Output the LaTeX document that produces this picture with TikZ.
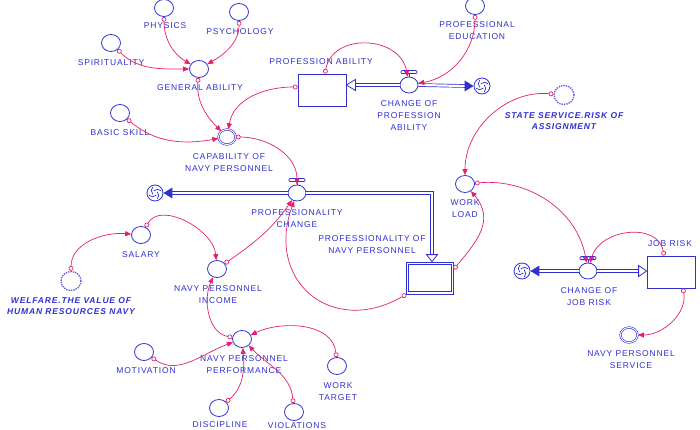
\documentclass[tikz,border=0pt]{standalone}
\usepackage{fontspec}
\setmainfont{Liberation Sans}
\newfontfamily\labfont[LetterSpace=10]{Liberation Sans}
\usetikzlibrary{shapes.geometric,arrows.meta,calc}
\definecolor{vblue}{RGB}{48,48,210}
\definecolor{vpink}{RGB}{230,30,115}
\definecolor{vshadow}{RGB}{100,100,225}
\begin{document}
\begin{tikzpicture}[x=1pt,y=-1pt,
  aux/.style={ellipse,draw=vblue,line width=0.8pt,minimum width=19pt,minimum height=17pt,inner sep=0pt},
  valve/.style={aux,minimum width=18pt,minimum height=16pt},
  dbl/.style={ellipse,draw=vblue,line width=0.6pt,double=white,double distance=1pt,minimum width=17pt,minimum height=15pt,inner sep=0pt},
  shadow/.style={ellipse,draw=vshadow,line width=1.4pt,densely dotted,minimum width=20pt,minimum height=19pt,inner sep=0pt},
  stock/.style={rectangle,draw=vblue,line width=0.8pt,minimum width=48pt,minimum height=32pt,inner sep=0pt},
  innerbox/.style={draw=vblue,line width=0.8pt},
  cloudnode/.style={circle,draw=vblue,line width=0.8pt,minimum size=16pt,inner sep=0pt},
  lab/.style={text=vblue,font=\fontsize{8.5}{12}\labfont,align=center,inner sep=0pt},
  blab/.style={text=vblue,font=\fontsize{8.5}{11}\labfont\bfseries\itshape,align=center,inner sep=0pt},
  conn/.style={draw=vpink,line width=0.7pt,arrows={Circle[open,length=4.8pt,width=4.8pt]-Triangle[length=6pt,width=5pt]}},
  pipe/.style={draw=vblue,line width=0.7pt,double=white,double distance=2.2pt},
  hollowtip/.style={draw=vblue,line width=0.8pt,fill=white,line join=miter},
  filltip/.style={fill=vblue},
  valvebar/.style={draw=vblue,line width=0.8pt},
  swirl/.style={draw=vblue,line width=0.7pt},
]
\useasboundingbox (0,0) rectangle (700,430);
\fill[white] (0,0) rectangle (700,430);

% ---------- nodes ----------
\node[aux] (phy) at (164,8) {};
\node[aux] (psy) at (239,12) {};
\node[aux] (spi) at (111,43) {};
\node[aux] (ga) at (199,69) {};
\node[aux] (bs) at (120,113) {};
\node[dbl] (cap) at (227,137) {};
\node[stock] (pa) at (322,90) {};
\node[valve] (v1) at (409,85) {};
\node[cloudnode] (c1) at (482,86) {};
\node[aux] (pe) at (475,6) {};
\node[shadow] (ss) at (564,95) {};
\node[aux] (wl) at (465,184) {};
\node[valve] (v2) at (297,193) {};
\node[cloudnode] (c2) at (155,193) {};
\coordinate (bend2) at (432,193);
\node[stock,minimum width=47pt,minimum height=32pt] (pn) at (430,278) {};
\draw[innerbox] ($(pn.north west)+(2.6,2.6)$) rectangle ($(pn.south east)+(-2.6,-2.6)$);
\node[valve] (v3) at (588,271) {};
\node[cloudnode] (c3) at (522,271) {};
\node[stock] (jr) at (671,272) {};
\node[dbl] (nps) at (629,335) {};
\node[aux] (sal) at (141,235) {};
\node[shadow] (wel) at (71,281) {};
\node[aux] (inc) at (217,269) {};
\node[aux] (perf) at (242,339) {};
\node[aux] (mot) at (144,352) {};
\node[aux] (wt) at (337,366) {};
\node[aux] (dis) at (219,408) {};
\node[aux] (vio) at (294,412) {};

% ---------- labels ----------
\node[lab] (lphy) at (165,26) {PHYSICS};
\node[lab] (lpsy) at (240,32) {PSYCHOLOGY};
\node[lab] (lspi) at (111,63) {SPIRITUALITY};
\node[lab] (lga) at (200,88) {GENERAL ABILITY};
\node[lab] (lbs) at (120,133) {BASIC SKILL};
\node[lab] (lcap) at (229,163) {CAPABILITY OF\\NAVY PERSONNEL};
\node[lab] (lpa) at (321,62) {PROFESSION ABILITY};
\node[lab] (lv1) at (409,116) {CHANGE OF\\PROFESSION\\ABILITY};
\node[lab] (lpe) at (477,31) {PROFESSIONAL\\EDUCATION};
\node[blab] (lss) at (564,121) {STATE SERVICE.RISK OF\\ASSIGNMENT};
\node[lab] (lwl) at (465,209) {WORK\\LOAD};
\node[lab] (lv2) at (297,219) {PROFESSIONALITY\\CHANGE};
\node[lab] (lpn) at (372,245) {PROFESSIONALITY OF\\NAVY PERSONNEL};
\node[lab] (lv3) at (589,297) {CHANGE OF\\JOB RISK};
\node[lab] (ljr) at (670,244) {JOB RISK};
\node[lab] (lnps) at (631,360) {NAVY PERSONNEL\\SERVICE};
\node[lab] (lsal) at (141,255) {SALARY};
\node[blab] (lwel) at (71,306) {WELFARE.THE VALUE OF\\HUMAN RESOURCES NAVY};
\node[lab] (linc) at (218,295) {NAVY PERSONNEL\\INCOME};
\node[lab] (lperf) at (244,365) {NAVY PERSONNEL\\PERFORMANCE};
\node[lab] (lmot) at (146,371) {MOTIVATION};
\node[lab] (lwt) at (338,392) {WORK\\TARGET};
\node[lab] (ldis) at (220,424.5) {DISCIPLINE};
\node[lab] (lvio) at (297,425.5) {VIOLATIONS};

% ---------- flows ----------
\draw[pipe] (v1.west) -- ($(pa.east |- v1)+(8,0)$);
\draw[hollowtip] (pa.east |- v1) -- ++(9,-5.5) -- ++(0,11) -- cycle;
\draw[pipe] (v1.east) -- ($(c1.west)+(-8,0)$);
\fill[filltip] (c1.west) -- ++(-9,-5.5) -- ++(0,11) -- cycle;

\draw[pipe] (v2.west) -- ($(c2.east)+(8,0)$);
\fill[filltip] (c2.east) -- ++(9,-5.5) -- ++(0,11) -- cycle;
\draw[pipe] (v2.east) -- (bend2) -- ($(bend2 |- pn.north)+(0,-7)$);
\draw[hollowtip] (bend2 |- pn.north) -- ++(-5.5,-7) -- ++(11,0) -- cycle;

\draw[pipe] (v3.west) -- ($(c3.east)+(8,0)$);
\fill[filltip] (c3.east) -- ++(9,-5.5) -- ++(0,11) -- cycle;
\draw[pipe] (v3.east) -- ($(jr.west |- v3)+(-8,0)$);
\draw[hollowtip] (jr.west |- v3) -- ++(-8,-5.5) -- ++(0,11) -- cycle;

% clouds
\foreach \c in {c1,c2,c3}{
  \foreach \a in {20,110,200,290}{
    \draw[swirl] ($(\c.center)+(\a:6.5pt)$) to[bend right=45] ($(\c.center)+(\a+100:2.5pt)$);
  }
}

% valves
\foreach \v in {v1,v2,v3}{
  \draw[valvebar] (\v.north) -- ++(0,-3);
  \draw[valvebar,fill=white,rounded corners=1pt] ($(\v.north)+(-8,-6)$) rectangle ($(\v.north)+(8,-3)$);
}

% ---------- connectors ----------
\draw[conn] (phy) to[out=-90,in=150] (ga);
\draw[conn] (psy) to[out=-90,in=30] (ga);
\draw[conn] (spi) to[out=-45,in=180] (ga);
\draw[conn] (ga) to[out=-95,in=135] (cap);
\draw[conn] (bs) to[out=-40,in=190] (cap);
\draw[conn] ([yshift=3pt]pa.west) to[out=180,in=80] (cap);
\draw[conn] (cap) to[out=0,in=90] (v2);
\draw[conn] ([xshift=3pt]pa.north) to[out=80,in=100,looseness=1.3] (v1);
\draw[conn] (pe) to[out=-90,in=10] (v1);
\draw[conn] (ss) to[out=175,in=90] (wl);
\draw[conn] (wl) to[out=5,in=100] (v3);
\draw[conn] ([xshift=-7pt]jr.north) to[out=100,in=75,looseness=1.2] (v3);
\draw[conn] ([xshift=12pt]jr.south) to[out=-80,in=0] (nps);
\draw[conn] ([yshift=9pt]pn.east) to[out=50,in=-50,looseness=1.2] (wl);
\draw[conn] (pn.south west) to[out=210,in=-110,looseness=1.5] (v2);
\draw[conn] (inc) to[out=35,in=-125] (v2);
\draw[conn] (sal) to[out=60,in=95] (inc);
\draw[conn] (wel) to[out=90,in=175] (sal);
\draw[conn] (perf) to[out=170,in=-115] (inc);
\draw[conn] (mot) to[out=-35,in=200] (perf);
\draw[conn] (wt) to[out=95,in=25] (perf);
\draw[conn] (dis) to[out=40,in=-85] (perf);
\draw[conn] (vio) to[out=95,in=-45] (perf);
\end{tikzpicture}
\end{document}
